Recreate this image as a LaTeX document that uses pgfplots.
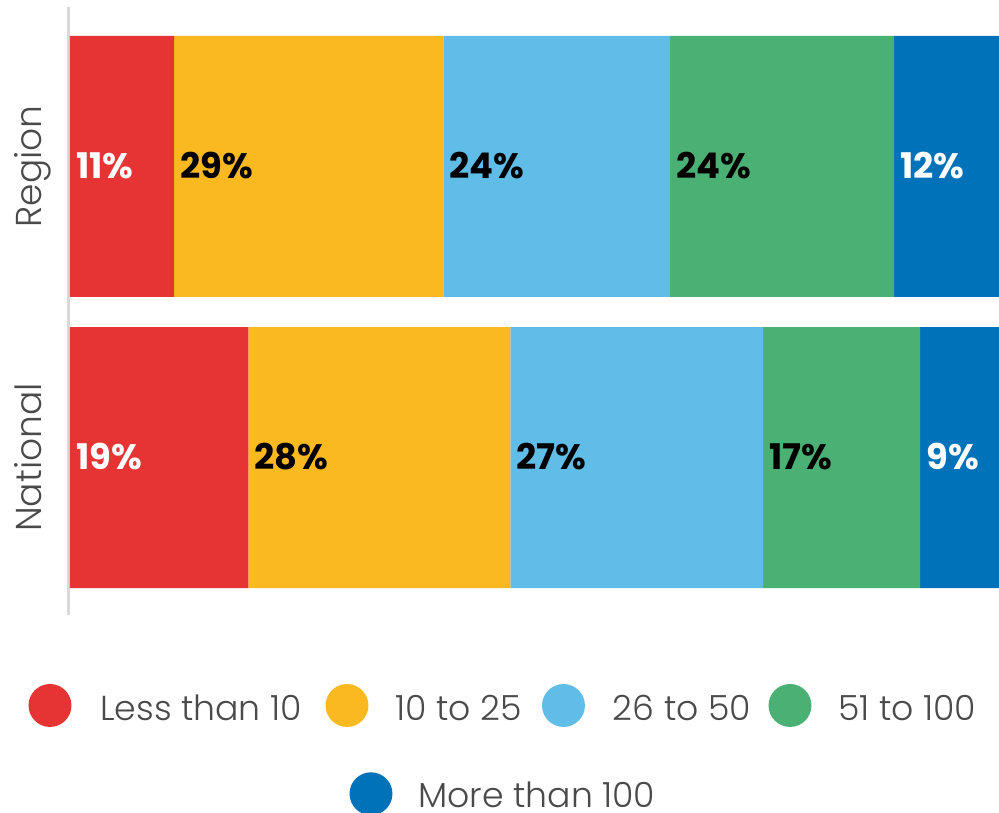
\documentclass[border=0pt]{standalone}
\usepackage{fontspec}
\setmainfont{Poppins}
\newfontfamily\lightfont{Poppins Light}
\usepackage{pgfplots}
\pgfplotsset{compat=1.18}
\definecolor{cRed}{HTML}{E63333}
\definecolor{cYellow}{HTML}{FBB921}
\definecolor{cLBlue}{HTML}{5FBDE8}
\definecolor{cGreen}{HTML}{4BB074}
\definecolor{cDBlue}{HTML}{0072BA}
\definecolor{cAxis}{HTML}{D9D9D9}
\definecolor{cText}{HTML}{4A4A4A}
\begin{document}
\begin{tikzpicture}
\useasboundingbox (0,0) rectangle (749.25pt,-609.75pt);
\pgfplotsset{myaxis/.style={scale only axis, width=697.875pt, height=456pt,
  xmin=-0.161, xmax=100, ymin=-0.541, ymax=1.548,
  at={(51.375pt,-461.25pt)}, anchor=south west}}
\begin{axis}[myaxis, xbar stacked, bar width=195.75pt,
  axis x line=none, axis y line=left,
  y axis line style={-, draw=cAxis, line width=2.25pt},
  xtick=\empty, ytick={0,1}, yticklabels={National,Region},
  major tick length=0pt,
  yticklabel style={rotate=90, anchor=base, inner sep=0pt, font=\lightfont\fontsize{27}{32}\selectfont, text=cText},
  yticklabel shift=19.9pt]
\addplot[fill=cRed, draw=none] coordinates {(11.2,1) (19.2,0)};
\addplot[fill=cYellow, draw=none] coordinates {(29.0,1) (28.2,0)};
\addplot[fill=cLBlue, draw=none] coordinates {(24.4,1) (27.2,0)};
\addplot[fill=cGreen, draw=none] coordinates {(24.1,1) (16.9,0)};
\addplot[fill=cDBlue, draw=none] coordinates {(11.3,1) (8.5,0)};
\end{axis}
\begin{axis}[myaxis, hide axis]
\addplot[draw=none, nodes near coords, point meta=explicit symbolic,
  every node near coord/.append style={anchor=base west, inner sep=0pt, xshift=4.5pt, yshift=-9pt, font=\bfseries\fontsize{26.5}{30}\selectfont, text=white}]
  table[meta=label, row sep=\\] {x y label\\ 0 1 11\%\\ 0 0 19\%\\ 88.7 1 12\%\\ 91.5 0 9\%\\};
\addplot[draw=none, nodes near coords, point meta=explicit symbolic,
  every node near coord/.append style={anchor=base west, inner sep=0pt, xshift=4.5pt, yshift=-9pt, font=\bfseries\fontsize{26.5}{30}\selectfont, text=black}]
  table[meta=label, row sep=\\] {x y label\\ 11.2 1 29\%\\ 40.2 1 24\%\\ 64.6 1 24\%\\ 19.2 0 28\%\\ 47.4 0 27\%\\ 74.6 0 17\%\\};
\end{axis}
% legend
\begin{scope}[every node/.style={anchor=base west, inner sep=0pt, font=\lightfont\fontsize{26}{31}\selectfont, text=cText}]
\fill[cRed] (37.5pt,-529.1pt) circle (16.1pt);
\node at (75pt,-540pt) {Less than 10};
\fill[cYellow] (260.25pt,-529.1pt) circle (16.1pt);
\node at (296.25pt,-540pt) {10 to 25};
\fill[cLBlue] (422.6pt,-529.1pt) circle (16.1pt);
\node at (459.5pt,-540pt) {26 to 50};
\fill[cGreen] (592.5pt,-529.1pt) circle (16.1pt);
\node at (628.5pt,-540pt) {51 to 100};
\fill[cDBlue] (278.25pt,-595.3pt) circle (16.1pt);
\node at (313.5pt,-605.25pt) {More than 100};
\end{scope}
\end{tikzpicture}
\end{document}
